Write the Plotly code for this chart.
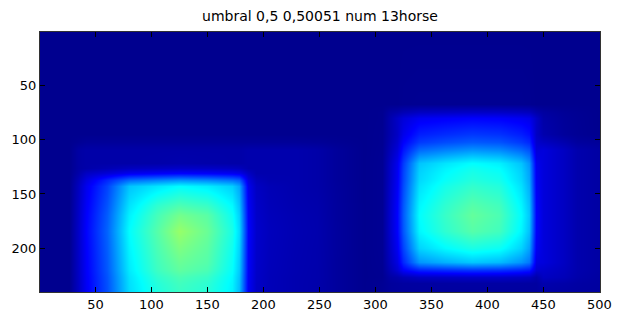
import plotly.graph_objects as go

# sample positions (image column / row coordinates)
x_left = [1, 26, 34, 42, 60, 80, 105, 125, 150, 172, 178, 186, 193, 205, 228, 248, 265, 290]
x_right = [306, 312, 319, 325, 339, 362, 386, 410, 430, 437, 443, 450, 468, 480, 500]
y_rows = [1, 67, 74, 80, 95, 102, 109, 121, 126, 131, 137, 143, 160, 169, 184, 200, 213, 220, 227, 232, 242]

# intensity, left half (x_left columns)
z_left = [
    [0]*18,
    [0]*18,
    [0]*18,
    [0]*18,
    [0]*18,
    [0,0,0.005,0.01,0.01,0.01,0.01,0.01,0.01,0.01,0.01,0.01,0.01,0.01,0.01,0.008,0.004,0],
    [0,0,0.02,0.025,0.025,0.025,0.025,0.025,0.025,0.025,0.025,0.03,0.03,0.03,0.03,0.025,0.012,0],
    [0,0,0.02,0.025,0.025,0.025,0.026,0.03,0.027,0.025,0.025,0.03,0.03,0.03,0.03,0.025,0.012,0],
    [0,0,0.02,0.026,0.036,0.047,0.052,0.056,0.054,0.049,0.045,0.03,0.03,0.03,0.03,0.025,0.012,0],
    [0,0,0.026,0.052,0.071,0.094,0.104,0.111,0.106,0.097,0.089,0.052,0.03,0.03,0.03,0.025,0.012,0],
    [0,0,0.04,0.079,0.149,0.219,0.243,0.26,0.248,0.226,0.208,0.079,0.043,0.032,0.03,0.025,0.012,0],
    [0,0,0.047,0.094,0.177,0.307,0.341,0.365,0.349,0.318,0.278,0.094,0.051,0.038,0.03,0.025,0.013,0],
    [0,0,0.052,0.103,0.194,0.337,0.411,0.44,0.42,0.36,0.305,0.103,0.056,0.041,0.032,0.028,0.014,0],
    [0,0,0.054,0.107,0.203,0.352,0.434,0.48,0.454,0.376,0.319,0.107,0.058,0.043,0.034,0.029,0.014,0],
    [0,0,0.056,0.111,0.21,0.365,0.45,0.515,0.47,0.39,0.33,0.111,0.06,0.045,0.035,0.03,0.015,0],
    [0,0,0.055,0.108,0.205,0.356,0.439,0.49,0.458,0.38,0.322,0.108,0.059,0.044,0.034,0.029,0.015,0],
    [0,0,0.054,0.106,0.201,0.349,0.43,0.47,0.449,0.372,0.315,0.106,0.058,0.043,0.033,0.029,0.014,0],
    [0,0,0.053,0.105,0.199,0.345,0.425,0.46,0.439,0.368,0.312,0.105,0.057,0.042,0.033,0.028,0.014,0],
    [0,0,0.052,0.103,0.194,0.337,0.411,0.44,0.42,0.36,0.305,0.103,0.056,0.041,0.032,0.028,0.014,0],
    [0,0,0.051,0.102,0.192,0.334,0.402,0.43,0.41,0.356,0.302,0.102,0.055,0.041,0.032,0.027,0.014,0],
    [0,0,0.051,0.1,0.19,0.33,0.393,0.42,0.401,0.352,0.298,0.1,0.054,0.04,0.032,0.027,0.014,0],
]

# intensity, right half (x_right columns)
z_right = [
    [0]*15,
    [0,0,0,0.002,0.003,0.003,0.003,0.003,0.003,0.002,0,0,0,0,0],
    [0.002,0.019,0.027,0.037,0.05,0.053,0.056,0.055,0.05,0.046,0.027,0.017,0.007,0.004,0],
    [0.002,0.027,0.054,0.073,0.098,0.105,0.111,0.108,0.098,0.09,0.054,0.024,0.01,0.005,0],
    [0.003,0.027,0.053,0.09,0.139,0.153,0.165,0.159,0.139,0.123,0.053,0.03,0.012,0.006,0],
    [0.003,0.031,0.061,0.109,0.167,0.186,0.2,0.193,0.167,0.149,0.061,0.05,0.03,0.015,0.01],
    [0.004,0.037,0.073,0.131,0.217,0.241,0.26,0.25,0.217,0.193,0.073,0.076,0.05,0.03,0.02],
    [0.005,0.047,0.093,0.167,0.306,0.339,0.365,0.351,0.306,0.26,0.093,0.076,0.05,0.03,0.02],
    [0.005,0.049,0.096,0.173,0.315,0.353,0.38,0.365,0.315,0.268,0.096,0.076,0.05,0.03,0.02],
    [0.005,0.049,0.098,0.176,0.321,0.362,0.39,0.375,0.321,0.273,0.098,0.076,0.05,0.03,0.02],
    [0.005,0.05,0.1,0.179,0.327,0.371,0.4,0.385,0.327,0.278,0.1,0.076,0.05,0.03,0.02],
    [0.005,0.052,0.102,0.184,0.336,0.385,0.415,0.399,0.336,0.285,0.102,0.076,0.05,0.03,0.02],
    [0.005,0.055,0.109,0.196,0.357,0.411,0.45,0.43,0.357,0.303,0.109,0.076,0.05,0.03,0.02],
    [0.005,0.056,0.111,0.2,0.365,0.42,0.464,0.44,0.365,0.31,0.111,0.076,0.05,0.03,0.02],
    [0.005,0.055,0.109,0.196,0.357,0.411,0.45,0.43,0.357,0.303,0.109,0.076,0.05,0.03,0.02],
    [0.005,0.049,0.098,0.176,0.321,0.362,0.39,0.375,0.321,0.273,0.098,0.076,0.05,0.03,0.02],
    [0.004,0.042,0.082,0.149,0.26,0.288,0.31,0.298,0.26,0.23,0.082,0.076,0.05,0.03,0.02],
    [0.003,0.033,0.065,0.105,0.142,0.152,0.16,0.156,0.142,0.131,0.065,0.06,0.045,0.03,0.02],
    [0.002,0.019,0.027,0.037,0.05,0.053,0.056,0.055,0.05,0.046,0.027,0.05,0.04,0.027,0.018],
    [0.005,0.012,0.015,0.017,0.018,0.019,0.02,0.02,0.019,0.018,0.017,0.03,0.025,0.02,0.017],
    [0.005,0.012,0.013,0.014,0.015,0.015,0.015,0.015,0.015,0.015,0.015,0.02,0.018,0.017,0.015],
]

x_ticks = [50, 100, 150, 200, 250, 300, 350, 400, 450, 500]
y_ticks = [50, 100, 150, 200]
title_text = "umbral 0,5 0,50051 num 13horse"

x_all = x_left + x_right
z_all = [l + r for l, r in zip(z_left, z_right)]

jet = [
    [0.0, "rgb(0,0,143)"],
    [0.111, "rgb(0,0,255)"],
    [0.365, "rgb(0,255,255)"],
    [0.619, "rgb(255,255,0)"],
    [0.873, "rgb(255,0,0)"],
    [1.0, "rgb(128,0,0)"],
]

fig = go.Figure(go.Heatmap(
    x=x_all, y=y_rows, z=z_all,
    colorscale=jet, zmin=0, zmax=1,
    zsmooth="best", showscale=False,
))

axis_common = dict(
    showgrid=False, zeroline=False, ticks="inside", ticklen=5,
    tickcolor="black", showline=True, linecolor="#333333", linewidth=1,
    mirror="ticks", tickfont=dict(family="DejaVu Sans", size=13, color="black"),
)
fig.update_xaxes(range=[0.5, 500.5], tickvals=x_ticks, **axis_common)
fig.update_yaxes(range=[240.5, 0.5], tickvals=y_ticks, **axis_common)

fig.update_layout(
    width=624, height=324,
    margin=dict(l=38, r=17, t=32, b=23),
    paper_bgcolor="white", plot_bgcolor="white",
    title=dict(text=title_text, x=0.5, xref="paper", y=0.951, yref="container",
               yanchor="middle", xanchor="center",
               font=dict(family="DejaVu Sans", size=14, color="black")),
)

fig.write_html("out.html")
